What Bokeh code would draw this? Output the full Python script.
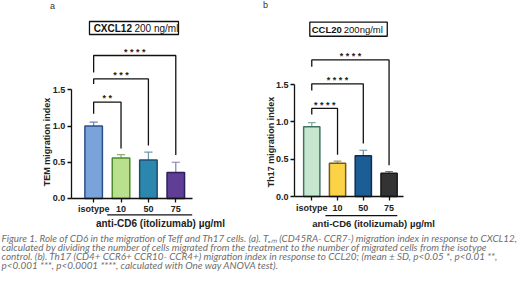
from bokeh.plotting import figure
from bokeh.models import Range1d, FixedTicker, Label, Arrow, ColumnDataSource, NumeralTickFormatter
from bokeh.layouts import column, row
from bokeh.core.properties import value
from bokeh.embed import file_html
from bokeh.resources import INLINE

# ---------------- data ----------------
categories = ["isotype", "10", "50", "75"]
tem_mean = [1.00, 0.56, 0.53, 0.36]
tem_sd = [0.055, 0.046, 0.11, 0.14]
tem_sig = ["**", "***", "****"]          # isotype vs 10, 50, 75
th17_mean = [0.935, 0.445, 0.545, 0.31]
th17_sd = [0.055, 0.03, 0.075, 0.025]
th17_sig = ["****", "****", "****"]
y_ticks = [0.0, 0.5, 1.0, 1.5]

caption_lines = [
    "Figure 1. Role of CD6 in the migration of Teff and Th17 cells. (a). T\u2091\u2098 (CD45RA- CCR7-) migration index in response to CXCL12,",
    "calculated by dividing the number of cells migrated from the treatment to the number of migrated cells from the isotype",
    "control. (b). Th17 (CD4+ CCR6+ CCR10- CCR4+) migration index in response to CCL20; (mean \u00b1 SD, p<0.05 *, p<0.01 **,",
    "p<0.001 ***, p<0.0001 ****, calculated with One way ANOVA test).",
]

FONT = "Liberation Sans"


def make_panel(letter, means, sds, sig, fills, edges, whisk, ylabel, chem_b, chem_n,
               xr, yr, xbounds, barw, fs_title, fs_group, st):
    p = figure(width=260, height=230, x_range=Range1d(*xr), y_range=Range1d(*yr),
               min_border=0, output_backend="svg", toolbar_location=None)
    p.grid.visible = False
    p.outline_line_color = None
    p.background_fill_color = "white"
    p.border_fill_color = "white"

    xs = list(range(len(categories)))
    src = ColumnDataSource(dict(
        x=xs, top=means, up=[m + s for m, s in zip(means, sds)],
        xl=[x - 0.15 for x in xs], xr=[x + 0.15 for x in xs],
        fill=fills, edge=edges, wc=whisk))
    p.segment(x0="x", y0="top", x1="x", y1="up", line_color="wc", line_width=1.2, source=src)
    p.segment(x0="xl", y0="up", x1="xr", y1="up", line_color="wc", line_width=1.2, source=src)
    p.vbar(x="x", top="top", bottom=0, width=barw, fill_color="fill", line_color="edge",
           line_width=1.5, source=src)

    # significance brackets
    bx, by = [], []
    for k, (top, lb, rb) in enumerate(st["brackets"]):
        bx.append([0, 0, k + 1, k + 1])
        by.append([lb, top, top, rb])
        p.text(x=[(k + 1) / 2], y=[top + st["soff"]], text=[" ".join(sig[k])],
               text_font=value(FONT), text_font_style="bold", text_font_size="9px",
               text_align="center", text_baseline="alphabetic", text_color="#222222")
    p.multi_line(xs=bx, ys=by, line_color="#111111", line_width=1.3)

    # title box
    bxl, bxr, byb, byt = st["box"]
    p.quad(left=[bxl], right=[bxr], bottom=[byb], top=[byt], fill_color="white",
           line_color="#111111", line_width=1.3)
    ym = (byb + byt) / 2
    p.text(x=[st["tx0"]], y=[ym], text=[chem_b], text_font=value(FONT), text_font_style="bold",
           text_font_size=fs_title, text_align="left", text_baseline="middle", text_color="#111111")
    p.text(x=[st["tx1"]], y=[ym], text=[chem_n], text_font=value(FONT), text_font_style="normal",
           text_font_size=fs_title, text_align="left", text_baseline="middle", text_color="#111111")

    # axes (placed at fixed data locations inside the full-size frame)
    for ax in (p.xaxis[0], p.yaxis[0]):
        ax.axis_line_width = 1.3
        ax.axis_line_color = "#111111"
        ax.major_tick_line_width = 1.3
        ax.major_tick_line_color = "#111111"
        ax.major_tick_in = 0
        ax.major_tick_out = 4
        ax.minor_tick_line_color = None
        ax.major_label_text_font = FONT
        ax.major_label_text_font_style = "bold"
        ax.major_label_text_font_size = "9px"
        ax.major_label_text_color = "#222222"
        ax.major_label_standoff = 2
    p.yaxis.fixed_location = xbounds[0]
    p.xaxis.fixed_location = 0
    p.yaxis.bounds = (0, 1.5)
    p.xaxis.bounds = xbounds
    p.yaxis.ticker = FixedTicker(ticks=y_ticks)
    p.yaxis.formatter = NumeralTickFormatter(format="0.0")
    p.xaxis.ticker = FixedTicker(ticks=xs)
    p.xaxis.major_label_overrides = {i: c for i, c in enumerate(categories)}

    # outside labels
    p.add_layout(Label(x=st["letter"][0], y=st["letter"][1], text=letter, text_font=FONT,
                       text_font_size="9px", text_align="center", text_baseline="middle",
                       text_color="#333333"))
    p.add_layout(Label(x=st["ylab"][0], y=st["ylab"][1], text=ylabel, angle=1.5708,
                       text_font=FONT, text_font_style="bold", text_font_size="9px",
                       text_align="center", text_baseline="middle", text_color="#222222"))
    ux0, ux1, uy = st["uline"]
    p.add_layout(Arrow(end=None, x_start=ux0, y_start=uy, x_end=ux1, y_end=uy,
                       line_color="#111111", line_width=1.3))
    p.add_layout(Label(x=st["glab"][0], y=st["glab"][1], text="anti-CD6 (itolizumab) \u00b5g/ml",
                       text_font=FONT, text_font_style="bold", text_font_size=fs_group,
                       text_align="center", text_baseline="middle", text_color="#222222"))
    return p


pa = make_panel(
    "a", tem_mean, tem_sd, tem_sig,
    ["#7aa3dc", "#b9e08c", "#2b87ad", "#5f3f96"],
    ["#2d4f8a", "#4d8a2c", "#1c4f6e", "#2e1f5a"],
    ["#7088b2", "#8fae70", "#6f98ae", "#8c7ca8"],
    "TEM migration index", "CXCL12", "200 ng/ml",
    (-3.402, 6.094), (-0.4416, 2.732), (-0.82, 3.6), 0.64, "10px", "10px",
    dict(brackets=[(1.33, 1.17, 0.69), (1.65, 1.58, 0.73), (1.973, 1.74, 0.60)], soff=0.055,
         box=(-0.152, 3.099, 2.263, 2.442), tx0=0.0, tx1=1.49,
         letter=(-1.50, 2.66), ylab=(-1.70, 0.78), uline=(0.495, 3.6, -0.226),
         glab=(2.44, -0.344)))

pb = make_panel(
    "b", th17_mean, th17_sd, th17_sig,
    ["#c7e6cf", "#fcd347", "#1c5d95", "#333333"],
    ["#3d7466", "#6e5b22", "#0f2f52", "#1a1a1a"],
    ["#8aa89e", "#a89a6a", "#6a8aaa", "#777777"],
    "Th17 migration index", "CCL20", "200ng/ml",
    (-1.989, 8.100), (-0.4557, 2.627), (-0.67, 3.56), 0.63, "9.5px", "9.5px",
    dict(brackets=[(1.18, 1.10, 0.56), (1.51, 1.42, 0.71), (1.83, 1.74, 0.42)], soff=0.05,
         box=(-0.076, 2.93, 2.148, 2.336), tx0=0.0, tx1=1.243,
         letter=(-1.795, 2.56), ylab=(-1.60, 0.73), uline=(0.53, 3.32, -0.255),
         glab=(2.40, -0.358)))

pc = figure(width=520, height=67, x_range=Range1d(0, 520), y_range=Range1d(67, 0),
            min_border=0, output_backend="svg", toolbar_location=None)
pc.axis.visible = False
pc.grid.visible = False
pc.outline_line_color = None
pc.text(x=[1] * len(caption_lines), y=[7.7, 16.7, 25.7, 34.4], text=caption_lines,
        text_font=value("Lato"), text_font_style="italic", text_font_size="9.9px",
        text_align="left", text_baseline="middle", text_color="#6e6e6e")

layout = column(row(pa, pb), pc)
open("out.html", "w").write(file_html(layout, INLINE))
